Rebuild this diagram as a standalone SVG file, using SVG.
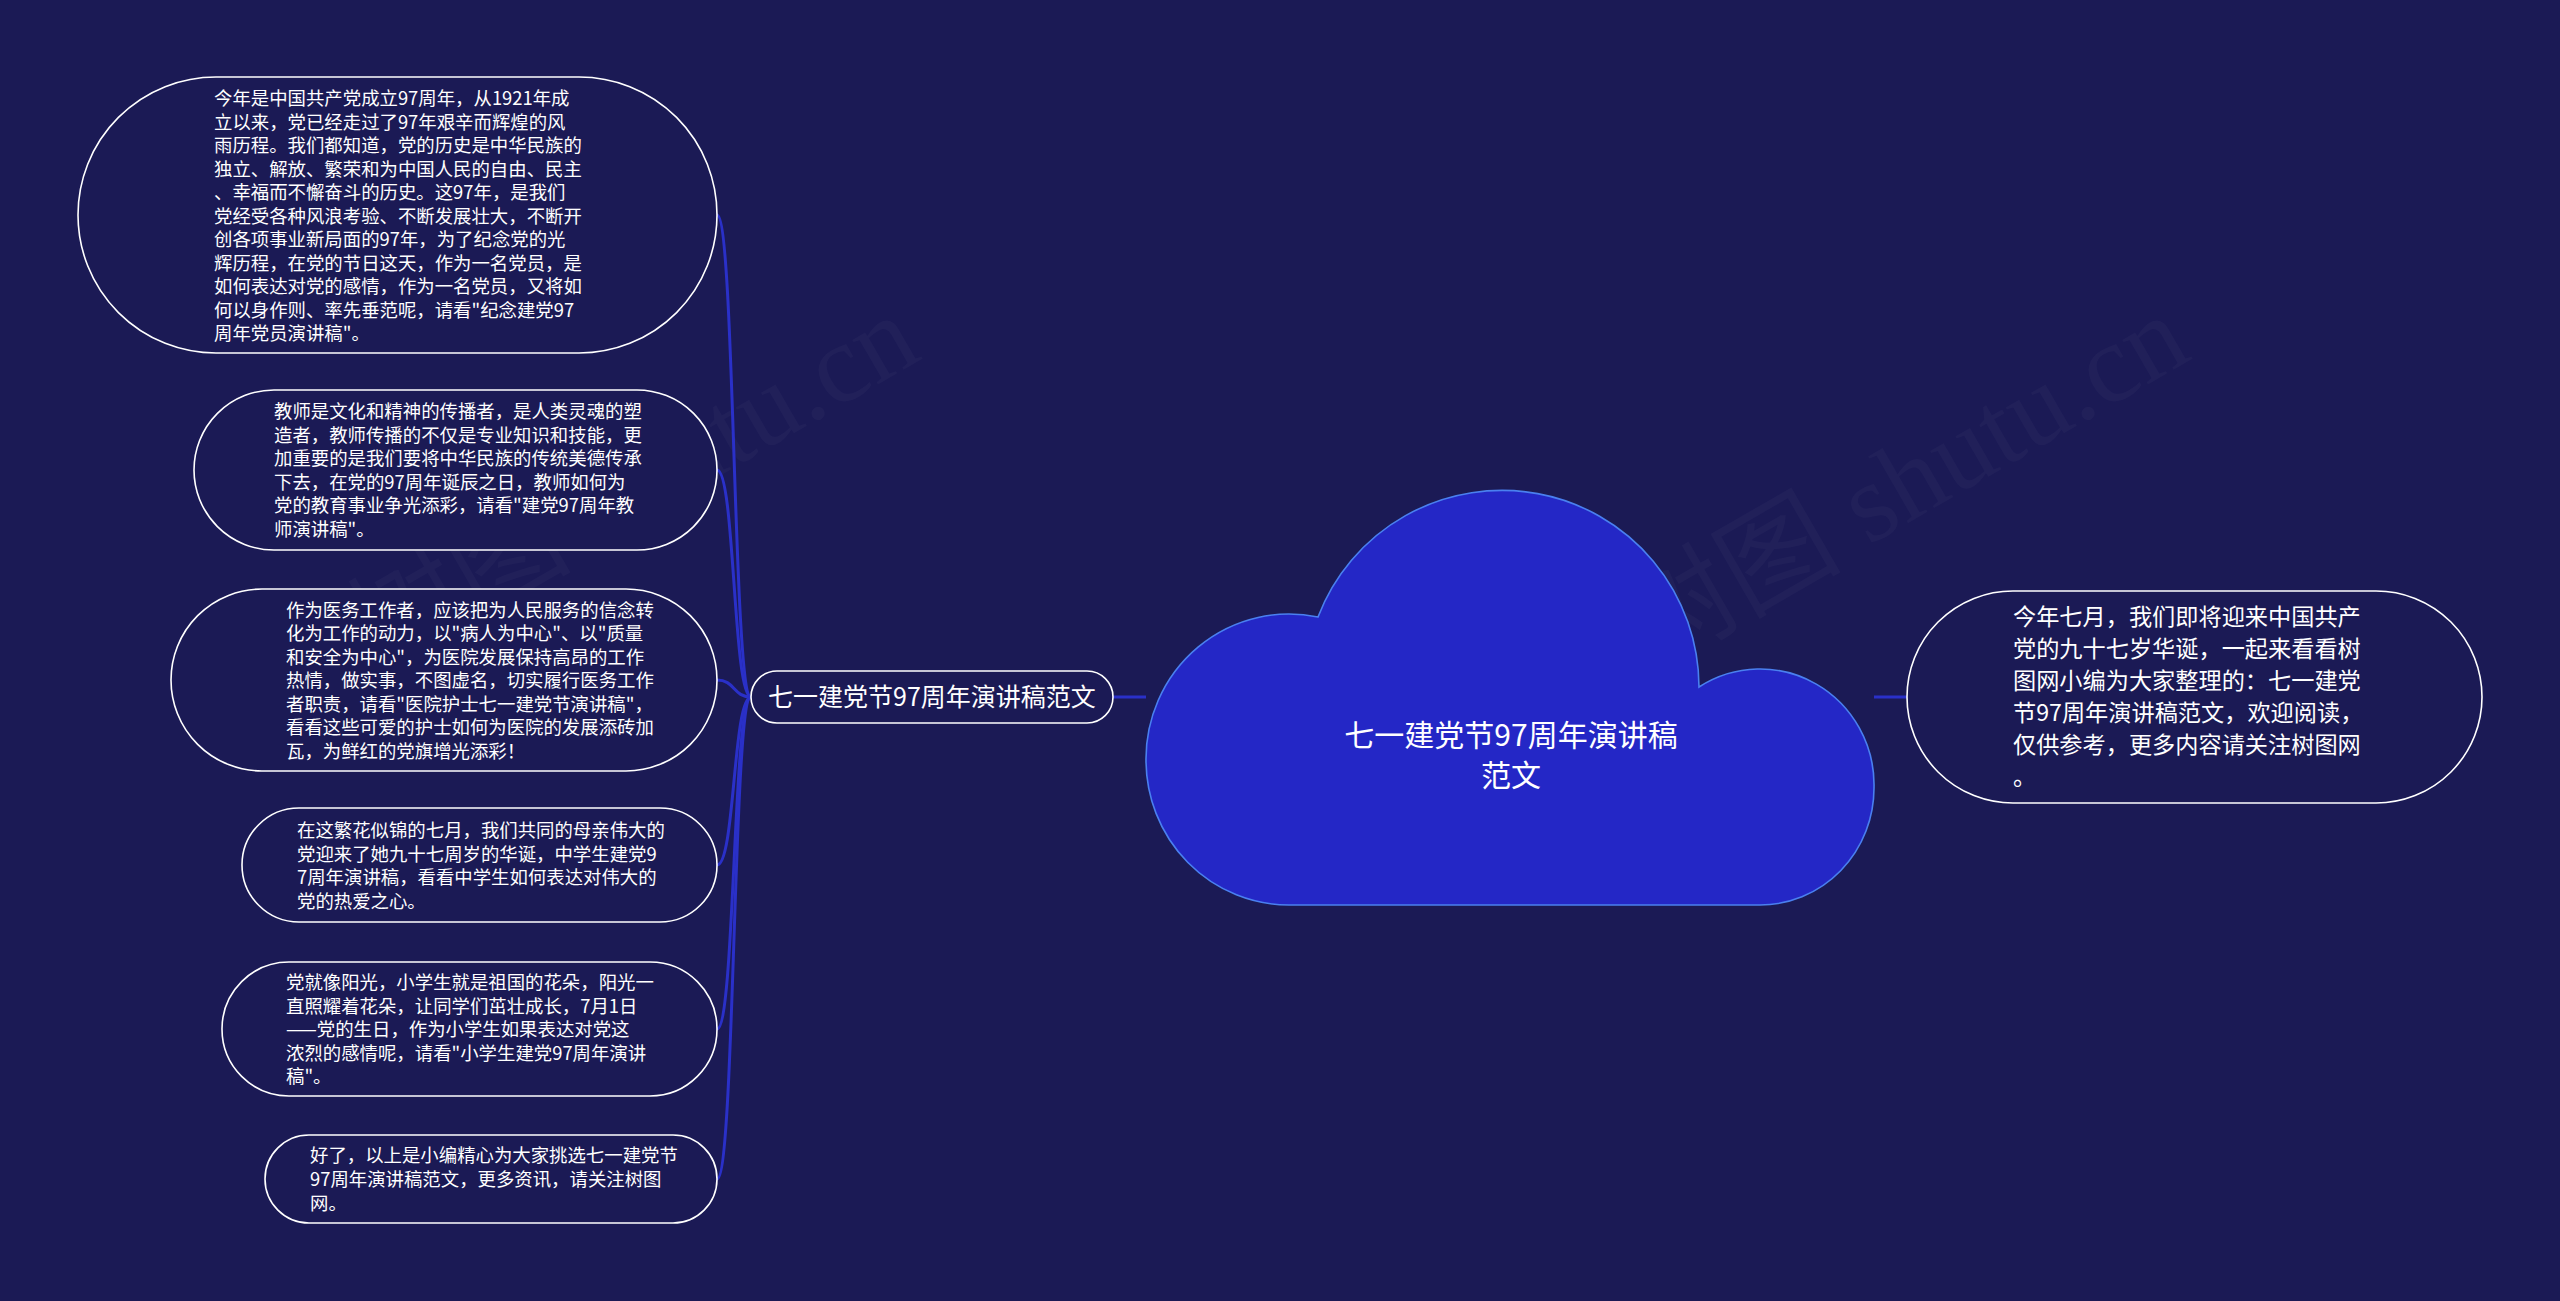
<svg xmlns="http://www.w3.org/2000/svg" width="2560" height="1301" viewBox="0 0 2560 1301">
<style>
.bg{fill:#1b1a55}
.node{fill:#1b1a55;stroke:#ffffff;stroke-width:1.6}
.txt{font-family:"Noto Sans CJK SC","Microsoft YaHei",sans-serif;fill:#ffffff}
.small{font-size:18.4px}
.mid{font-size:23.2px}
.conn{fill:none;stroke:#2a30c8;stroke-width:3}
.wm{font-family:"Liberation Serif","Noto Sans CJK SC",serif;font-size:112px;fill:#ffffff;fill-opacity:0.028}
</style>
<rect class="bg" x="0" y="0" width="2560" height="1301"/>
<g id="watermarks">
<text class="wm" x="380" y="672" transform="rotate(-30 380 672)">树图 shutu.cn</text>
<text class="wm" x="1650" y="672" transform="rotate(-30 1650 672)">树图 shutu.cn</text>
</g>
<g id="connectors">
<path class="conn" d="M1113 697 L1146 697"/>
<path class="conn" d="M1874 697 L1907 697"/>
<path class="conn" d="M751 697 C733 697 735 215 717 215"/>
<path class="conn" d="M751 697 C733 697 735 470 717 470"/>
<path class="conn" d="M751 697 C733 697 735 680 717 680"/>
<path class="conn" d="M751 697 C733 697 735 865 717 865"/>
<path class="conn" d="M751 697 C733 697 735 1029 717 1029"/>
<path class="conn" d="M751 697 C733 697 735 1179 717 1179"/>
</g>
<g id="center">
<path d="M1289 905 A143 145 0 0 1 1146 760 A143 145 0 0 1 1318 617 A197 197 0 0 1 1699 687 A114 116 0 0 1 1874 788 A114 117 0 0 1 1760 905 Z" fill="#2427c6" stroke="#4a80f0" stroke-width="1.6"/>
<text class="txt" font-size="30" text-anchor="middle" x="1511" y="746">七一建党节97周年演讲稿</text>
<text class="txt" font-size="30" text-anchor="middle" x="1511" y="786">范文</text>
</g>
<g id="main-topic">
<rect class="node" x="751" y="671" width="362" height="52" rx="26"/>
<text class="txt" font-size="25" text-anchor="middle" x="932" y="706">七一建党节97周年演讲稿范文</text>
</g>
<g id="summary">
<rect class="node" x="1907" y="591" width="575" height="212" rx="106"/>
<text class="txt mid" x="2013">
<tspan x="2013" y="625">今年七月，我们即将迎来中国共产</tspan>
<tspan x="2013" y="657">党的九十七岁华诞，一起来看看树</tspan>
<tspan x="2013" y="689">图网小编为大家整理的：七一建党</tspan>
<tspan x="2013" y="721">节97周年演讲稿范文，欢迎阅读，</tspan>
<tspan x="2013" y="753">仅供参考，更多内容请关注树图网</tspan>
<tspan x="2013" y="785">。</tspan>
</text>
</g>
<g id="node1">
<rect class="node" x="78" y="77" width="639" height="276" rx="138"/>
<text class="txt small">
<tspan x="214" y="105">今年是中国共产党成立97周年，从1921年成</tspan>
<tspan x="214" y="128.5">立以来，党已经走过了97年艰辛而辉煌的风</tspan>
<tspan x="214" y="152">雨历程。我们都知道，党的历史是中华民族的</tspan>
<tspan x="214" y="175.5">独立、解放、繁荣和为中国人民的自由、民主</tspan>
<tspan x="214" y="199">、幸福而不懈奋斗的历史。这97年，是我们</tspan>
<tspan x="214" y="222.5">党经受各种风浪考验、不断发展壮大，不断开</tspan>
<tspan x="214" y="246">创各项事业新局面的97年，为了纪念党的光</tspan>
<tspan x="214" y="269.5">辉历程，在党的节日这天，作为一名党员，是</tspan>
<tspan x="214" y="293">如何表达对党的感情，作为一名党员，又将如</tspan>
<tspan x="214" y="316.5">何以身作则、率先垂范呢，请看"纪念建党97</tspan>
<tspan x="214" y="340">周年党员演讲稿"。</tspan>
</text>
</g>
<g id="node2">
<rect class="node" x="194" y="390" width="523" height="160" rx="80"/>
<text class="txt small">
<tspan x="274" y="418">教师是文化和精神的传播者，是人类灵魂的塑</tspan>
<tspan x="274" y="441.5">造者，教师传播的不仅是专业知识和技能，更</tspan>
<tspan x="274" y="465">加重要的是我们要将中华民族的传统美德传承</tspan>
<tspan x="274" y="488.5">下去，在党的97周年诞辰之日，教师如何为</tspan>
<tspan x="274" y="512">党的教育事业争光添彩，请看"建党97周年教</tspan>
<tspan x="274" y="535.5">师演讲稿"。</tspan>
</text>
</g>
<g id="node3">
<rect class="node" x="171" y="589" width="546" height="182" rx="91"/>
<text class="txt small">
<tspan x="286" y="616.5">作为医务工作者，应该把为人民服务的信念转</tspan>
<tspan x="286" y="640">化为工作的动力，以"病人为中心"、以"质量</tspan>
<tspan x="286" y="663.5">和安全为中心"，为医院发展保持高昂的工作</tspan>
<tspan x="286" y="687">热情，做实事，不图虚名，切实履行医务工作</tspan>
<tspan x="286" y="710.5">者职责，请看"医院护士七一建党节演讲稿"，</tspan>
<tspan x="286" y="734">看看这些可爱的护士如何为医院的发展添砖加</tspan>
<tspan x="286" y="757.5">瓦，为鲜红的党旗增光添彩！</tspan>
</text>
</g>
<g id="node4">
<rect class="node" x="242" y="808" width="475" height="114" rx="57"/>
<text class="txt small">
<tspan x="297" y="837">在这繁花似锦的七月，我们共同的母亲伟大的</tspan>
<tspan x="297" y="860.5">党迎来了她九十七周岁的华诞，中学生建党9</tspan>
<tspan x="297" y="884">7周年演讲稿，看看中学生如何表达对伟大的</tspan>
<tspan x="297" y="907.5">党的热爱之心。</tspan>
</text>
</g>
<g id="node5">
<rect class="node" x="222" y="962" width="495" height="134" rx="67"/>
<text class="txt small">
<tspan x="286" y="989">党就像阳光，小学生就是祖国的花朵，阳光一</tspan>
<tspan x="286" y="1012.5">直照耀着花朵，让同学们茁壮成长，7月1日</tspan>
<tspan x="286" y="1036">——党的生日，作为小学生如果表达对党这</tspan>
<tspan x="286" y="1059.5">浓烈的感情呢，请看"小学生建党97周年演讲</tspan>
<tspan x="286" y="1083">稿"。</tspan>
</text>
</g>
<g id="node6">
<rect class="node" x="265" y="1135" width="452" height="88" rx="44"/>
<text class="txt small">
<tspan x="310" y="1162">好了，以上是小编精心为大家挑选七一建党节</tspan>
<tspan x="310" y="1186">97周年演讲稿范文，更多资讯，请关注树图</tspan>
<tspan x="310" y="1210">网。</tspan>
</text>
</g>
</svg>
